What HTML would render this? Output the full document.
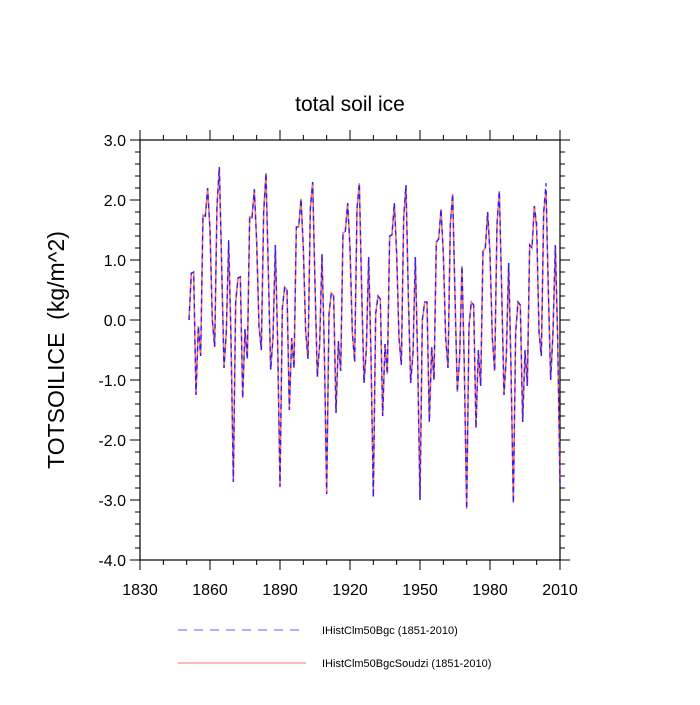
<!DOCTYPE html>
<html><head><meta charset="utf-8"><style>
body{margin:0;background:#fff;}
svg text{font-family:"Liberation Sans",sans-serif;fill:#000;}
</style></head><body>
<svg id="chart" width="700" height="700" viewBox="0 0 700 700" xmlns="http://www.w3.org/2000/svg">
<text x="350" y="111" font-size="21" text-anchor="middle">total soil ice</text>
<text transform="translate(64,350) rotate(-90)" font-size="23" text-anchor="middle">TOTSOILICE &#160;(kg/m^2)</text>
<g id="axes"></g>
<g id="series"></g>
<g>
<line x1="178" y1="630" x2="306" y2="630" stroke="#6060ff" stroke-width="1" stroke-dasharray="9,7"/>
<text x="322" y="634" font-size="11">IHistClm50Bgc (1851-2010)</text>
<line x1="178" y1="663" x2="306" y2="663" stroke="#ff7070" stroke-width="1"/>
<text x="322" y="667" font-size="11">IHistClm50BgcSoudzi (1851-2010)</text>
</g>
</svg>
<script>
const years0 = 1851;
const xTicks = [1830,1860,1890,1920,1950,1980,2010];
const yTicks = [-4,-3,-2,-1,0,1,2,3];
const yTickLabels = ["-4.0","-3.0","-2.0","-1.0","0.0","1.0","2.0","3.0"];
const bgc = [
0.0,0.78,0.8,-1.25,-0.1,-0.6,1.75,1.73,2.2,1.5,0.0,-0.45,1.9,2.55,0.9,-0.8,-0.2,1.33,-0.3,-2.7,
0.3,0.7,0.72,-1.3,-0.15,-0.65,1.72,1.7,2.18,1.3,-0.1,-0.5,1.8,2.45,0.8,-0.83,-0.3,1.25,-0.4,-2.78,
0.2,0.55,0.5,-1.5,-0.3,-0.8,1.55,1.55,2.02,1.2,-0.2,-0.65,1.85,2.3,0.6,-0.95,-0.4,1.1,-0.5,-2.9,
0.1,0.45,0.4,-1.55,-0.35,-0.85,1.45,1.48,1.95,1.2,-0.2,-0.7,1.85,2.28,0.5,-1.05,-0.5,1.05,-0.6,-2.95,
0.1,0.4,0.35,-1.6,-0.4,-0.9,1.4,1.42,1.95,1.1,-0.3,-0.75,1.7,2.25,0.4,-1.05,-0.55,1.05,-0.65,-3.0,
0.0,0.3,0.3,-1.7,-0.45,-1.0,1.3,1.35,1.85,1.1,-0.3,-0.8,1.6,2.1,0.4,-1.2,-0.6,0.9,-0.8,-3.15,
-0.1,0.3,0.25,-1.8,-0.5,-1.1,1.15,1.2,1.8,1.1,-0.3,-0.85,1.6,2.15,0.5,-1.25,-0.6,0.95,-0.8,-3.05,
-0.2,0.3,0.25,-1.7,-0.5,-1.1,1.25,1.2,1.9,1.6,-0.2,-0.6,1.8,2.28,0.5,-1.0,-0.2,1.25,-0.3,-2.75];
const soudzi = [
0.0,0.78,0.8,-1.25,-0.1,-0.6,1.75,1.73,2.2,1.5,0.0,-0.45,1.9,2.55,0.9,-0.8,-0.2,1.3,-0.3,-2.7,
0.3,0.7,0.72,-1.3,-0.15,-0.65,1.72,1.7,2.18,1.3,-0.1,-0.5,1.8,2.45,0.8,-0.83,-0.3,1.25,-0.4,-2.78,
0.2,0.55,0.5,-1.5,-0.3,-0.8,1.55,1.55,2.02,1.2,-0.2,-0.65,1.85,2.3,0.6,-0.95,-0.4,1.1,-0.5,-2.9,
0.1,0.45,0.4,-1.55,-0.35,-0.85,1.45,1.48,1.95,1.2,-0.2,-0.7,1.85,2.28,0.5,-1.05,-0.5,1.05,-0.6,-2.95,
0.1,0.4,0.35,-1.6,-0.4,-0.9,1.4,1.42,1.95,1.1,-0.3,-0.75,1.7,2.25,0.4,-1.05,-0.55,1.05,-0.65,-3.0,
0.0,0.3,0.3,-1.7,-0.45,-1.0,1.3,1.35,1.85,1.1,-0.3,-0.8,1.6,2.1,0.4,-1.2,-0.6,0.9,-0.8,-3.15,
-0.1,0.3,0.25,-1.8,-0.5,-1.1,1.15,1.2,1.8,1.1,-0.3,-0.85,1.6,2.15,0.5,-1.25,-0.6,0.95,-0.8,-3.05,
-0.2,0.3,0.25,-1.7,-0.5,-1.1,1.25,1.2,1.9,1.5,-0.2,-0.6,1.8,2.15,0.5,-1.0,-0.2,1.25,-0.3,-2.75];

const L=140,R=560,T=140,B=560;
const xs = y => L + (y-1830)/(2010-1830)*(R-L);
const ys = v => T + (3-v)/(3-(-4))*(B-T);
const NS="http://www.w3.org/2000/svg";
function mk(tag,attrs,parent){const e=document.createElementNS(NS,tag);for(const k in attrs)e.setAttribute(k,attrs[k]);parent.appendChild(e);return e;}
const ax=document.getElementById('axes');
const frame=mk('rect',{x:L,y:T,width:R-L,height:B-T,fill:'none',stroke:'#000','stroke-width':1.2},ax);


for(let i=0;i<=35;i++){const v=-4+i*0.2;const y=ys(v);const major=(i%5===0);const len=major?10:5;
 const t1=mk('line',{x1:L-len,y1:y,x2:L,y2:y,stroke:'#000','stroke-width':1},ax);
 
 
 const t2=mk('line',{x1:R,y1:y,x2:R+len,y2:y,stroke:'#000','stroke-width':1},ax);
 
 }
yTicks.forEach((v,i)=>{const t=mk('text',{x:L-14,y:ys(v)+6,'font-size':16,'text-anchor':'end'},ax);t.textContent=yTickLabels[i];
 
 });
for(let yr=1830;yr<=2010;yr+=10){const x=xs(yr);const major=((yr-1830)%30===0);const len=major?10:5;
 const a=mk('line',{x1:x,y1:B,x2:x,y2:B+len,stroke:'#000','stroke-width':1},ax);
 
 
 const b=mk('line',{x1:x,y1:T-len,x2:x,y2:T,stroke:'#000','stroke-width':1},ax);
 
 }
xTicks.forEach(yr=>{const t=mk('text',{x:xs(yr),y:B+35,'font-size':16,'text-anchor':'middle'},ax);t.textContent=String(yr);
 
 });
const sg=document.getElementById('series');
function pts(arr){return arr.map((v,i)=>xs(years0+i).toFixed(2)+','+ys(v).toFixed(2)).join(' ');}
const red=mk('polyline',{points:pts(soudzi),fill:'none',stroke:'#ff3030','stroke-width':1.6,'stroke-opacity':0.7},sg);


const blue=mk('polyline',{points:pts(bgc),fill:'none',stroke:'#2020ff','stroke-width':1.3,'stroke-dasharray':'5,4'},sg);


</script>
</body></html>
